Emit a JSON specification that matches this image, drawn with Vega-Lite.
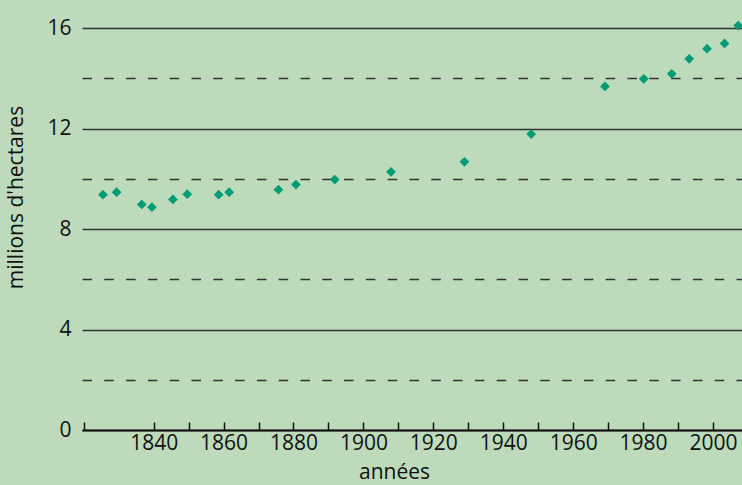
{
  "$schema": "https://vega.github.io/schema/vega-lite/v6.json",
  "width": 660,
  "height": 430,
  "autosize": {"type": "none"},
  "padding": {"left": 82, "top": 0, "right": 0, "bottom": 55},
  "background": "#bddbbb",
  "config": {
    "view": {"stroke": null},
    "font": "Open Sans",
    "axis": {"labelFont": "Open Sans", "titleFont": "Open Sans", "labelColor": "#111", "titleColor": "#111", "labelFontSize": 21, "titleFontSize": 21, "titleFontWeight": "normal"}
  },
  "data": {
    "values": [
      {"year": 1825.5, "value": 9.37},
      {"year": 1829.4, "value": 9.47},
      {"year": 1836.6, "value": 8.98},
      {"year": 1839.5, "value": 8.87},
      {"year": 1845.5, "value": 9.18},
      {"year": 1849.6, "value": 9.39},
      {"year": 1858.6, "value": 9.37},
      {"year": 1861.6, "value": 9.47},
      {"year": 1875.7, "value": 9.57},
      {"year": 1880.7, "value": 9.77},
      {"year": 1891.8, "value": 9.97},
      {"year": 1907.9, "value": 10.28},
      {"year": 1928.9, "value": 10.68},
      {"year": 1948.0, "value": 11.78},
      {"year": 1969.1, "value": 13.68},
      {"year": 1980.2, "value": 13.98},
      {"year": 1988.2, "value": 14.18},
      {"year": 1993.2, "value": 14.78},
      {"year": 1998.3, "value": 15.18},
      {"year": 2003.3, "value": 15.39},
      {"year": 2007.2, "value": 16.1}
    ]
  },
  "mark": {"type": "point", "shape": "diamond", "filled": true, "size": 95, "color": "#009b77", "opacity": 1, "clip": false},
  "encoding": {
    "x": {
      "field": "year", "type": "quantitative",
      "scale": {"domain": [1819.5, 2008.3], "nice": false, "zero": false},
      "axis": {
        "title": "années",
        "values": [1820, 1840, 1850, 1860, 1870, 1880, 1890, 1900, 1910, 1920, 1930, 1940, 1950, 1960, 1970, 1980, 1990, 2000],
        "labelExpr": "datum.value % 20 == 0 && datum.value > 1820 ? datum.value : ''",
        "grid": false,
        "domain": true, "domainColor": "#111", "domainWidth": 2,
        "ticks": true, "tickColor": "#111", "tickWidth": 1.5, "tickSize": -8,
        "labelPadding": 10, "labelFlush": false, "labelOverlap": false,
        "titleX": 312, "titleY": 48, "titleBaseline": "alphabetic"
      }
    },
    "y": {
      "field": "value", "type": "quantitative",
      "scale": {"domain": [0, 17.12], "nice": false},
      "axis": {
        "title": "millions d'hectares",
        "values": [0, 2, 4, 6, 8, 10, 12, 14, 16],
        "labelExpr": "datum.value % 4 == 0 ? datum.value : ''",
        "domain": false, "ticks": false,
        "labelPadding": 11,
        "grid": true, "gridColor": "#333", "gridWidth": 1.5, "gridOpacity": 1,
        "gridDash": {"condition": {"test": "datum.value % 4 == 0", "value": []}, "value": [9.5, 12.3]},
        "titleX": -56, "titleY": 197
      }
    }
  }
}
